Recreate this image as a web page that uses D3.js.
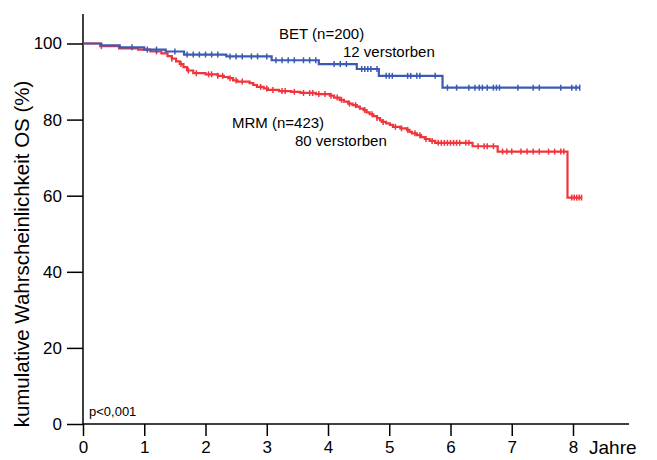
<!DOCTYPE html>
<html>
<head>
<meta charset="utf-8">
<script src="https://cdn.jsdelivr.net/npm/d3@7"></script>
<style>
  html, body { margin: 0; padding: 0; background: #fff; }
  svg { display: block; font-family: Arial, "Liberation Sans", sans-serif; }
</style>
</head>
<body>
<svg id="chart" width="657" height="460"></svg>
<script>
// Kaplan-Meier steps: [time in years, survival % after the drop]
const betSteps = [
  [0, 100], [0.3, 99.5], [0.6, 99.0], [1.0, 98.4], [1.35, 97.9], [1.65, 97.1],
  [2.34, 96.6], [3.08, 95.6], [3.85, 94.6], [4.47, 93.3], [4.83, 91.5], [5.87, 88.4]
];
const betEnd = 8.11;
const betCensored = [
  0.8, 1.05, 1.2, 1.5, 1.7, 1.8, 1.9, 2.0, 2.1, 2.2, 2.4, 2.5, 2.6, 2.75, 2.85, 3.0,
  3.15, 3.25, 3.35, 3.45, 3.6, 3.7, 3.8, 4.1, 4.2, 4.3, 4.55, 4.6, 4.65, 4.7, 4.8,
  4.95, 5.0, 5.05, 5.3, 5.35, 5.45, 5.5, 5.75, 5.95, 6.1, 6.3, 6.4, 6.47, 6.52, 6.6,
  6.7, 6.75, 6.8, 7.1, 7.35, 7.45, 7.8, 7.98, 8.05, 8.11
];

const mrmSteps = [
  [0, 100], [0.28, 99.3], [0.59, 98.7], [0.9, 98.4], [1.1, 97.9], [1.28, 97.4],
  [1.38, 96.7], [1.45, 96.0], [1.52, 95.3], [1.58, 94.6], [1.64, 93.8], [1.7, 92.9],
  [1.8, 92.2], [2.0, 91.9], [2.2, 91.5], [2.3, 91.2], [2.37, 90.9], [2.45, 90.3],
  [2.52, 90.0], [2.72, 89.6], [2.78, 89.1], [2.84, 88.6], [2.95, 88.2], [3.02, 87.8],
  [3.2, 87.5], [3.4, 87.3], [3.55, 87.0], [3.8, 86.7], [4.03, 86.3], [4.1, 85.8],
  [4.19, 85.2], [4.26, 84.7], [4.33, 84.2], [4.4, 83.8], [4.47, 83.4], [4.52, 82.9],
  [4.58, 82.5], [4.63, 81.9], [4.68, 81.4], [4.74, 80.9], [4.8, 80.4], [4.85, 79.8],
  [4.88, 79.4], [4.95, 79.0], [5.01, 78.6], [5.06, 78.1], [5.18, 77.7], [5.29, 77.3],
  [5.33, 76.8], [5.37, 76.4], [5.45, 75.9], [5.52, 75.4], [5.58, 74.9], [5.66, 74.4],
  [5.75, 73.9], [6.36, 73.0], [6.77, 71.6], [7.91, 59.5]
];
const mrmEnd = 8.15;
const mrmCensored = [
  0.3, 1.2, 1.45, 1.6, 1.72, 1.85, 2.05, 2.1, 2.2, 2.28, 2.4, 2.5, 2.6, 2.9, 3.0,
  3.1, 3.25, 3.3, 3.45, 3.6, 3.7, 3.75, 3.85, 3.95, 4.05, 4.15, 4.22, 4.35, 4.45,
  4.6, 4.72, 4.8, 4.9, 5.1, 5.2, 5.3, 5.42, 5.5, 5.6, 5.7, 5.8, 5.85, 5.9, 5.95,
  6.0, 6.05, 6.1, 6.15, 6.25, 6.3, 6.45, 6.55, 6.6, 6.7, 6.85, 6.92, 7.0, 7.15,
  7.25, 7.35, 7.45, 7.6, 7.7, 7.8, 7.85, 7.98, 8.02, 8.06, 8.1, 8.14
];

const xTicks = [0, 1, 2, 3, 4, 5, 6, 7, 8];
const yTicks = [0, 20, 40, 60, 80, 100];

const blue = "#3b5ab3";
const red = "#f0353d";

const svg = d3.select("#chart");
const x = d3.scaleLinear().domain([0, 8]).range([83, 573]);
const y = d3.scaleLinear().domain([0, 100]).range([424, 43.5]);

// axes
const yAxis = svg.append("g").attr("transform", `translate(${x(0)},0)`)
  .call(d3.axisLeft(y).tickValues(yTicks).tickSize(16).tickPadding(5));
yAxis.select(".domain").remove();
yAxis.selectAll(".tick line").attr("stroke", "#000").attr("stroke-width", 1.5);
yAxis.selectAll(".tick text").attr("font-size", 17).attr("fill", "#000")
  .attr("font-family", "Arial, 'Liberation Sans', sans-serif");
svg.append("line").attr("x1", x(0)).attr("x2", x(0)).attr("y1", 14).attr("y2", y(0))
  .attr("stroke", "#000").attr("stroke-width", 1.5);

const xAxis = svg.append("g").attr("transform", `translate(0,${y(0)})`)
  .call(d3.axisBottom(x).tickValues(xTicks).tickSize(12).tickPadding(5));
xAxis.select(".domain").remove();
xAxis.selectAll(".tick line").attr("stroke", "#000").attr("stroke-width", 1.5);
xAxis.selectAll(".tick text").attr("font-size", 17).attr("fill", "#000")
  .attr("font-family", "Arial, 'Liberation Sans', sans-serif");
svg.append("line").attr("x1", x(0)).attr("x2", 629).attr("y1", y(0)).attr("y2", y(0))
  .attr("stroke", "#000").attr("stroke-width", 1.5);

svg.append("text").attr("x", 589).attr("y", 454).attr("font-size", 19).text("Jahre");

svg.append("text")
  .attr("transform", `translate(29,${254}) rotate(-90)`)
  .attr("text-anchor", "middle").attr("font-size", 20.5)
  .text("kumulative Wahrscheinlichkeit OS (%)");

svg.append("text").attr("x", 89).attr("y", 416).attr("font-size", 13).text("p<0,001");

// survival curves
function stepPath(steps, end) {
  const pts = steps.map(d => [d[0], d[1]]);
  pts.push([end, steps[steps.length - 1][1]]);
  return d3.line().curve(d3.curveStepAfter).x(d => x(d[0])).y(d => y(d[1]))(pts);
}
function survivalAt(steps, t) {
  let v = steps[0][1];
  for (const s of steps) { if (s[0] <= t) v = s[1]; }
  return v;
}
function drawCurve(steps, end, censored, color) {
  const g = svg.append("g");
  g.append("path").attr("d", stepPath(steps, end)).attr("fill", "none")
    .attr("stroke", color).attr("stroke-width", 2.2);
  g.selectAll("line.c").data(censored).join("line")
    .attr("x1", d => x(d)).attr("x2", d => x(d))
    .attr("y1", d => y(survivalAt(steps, d)) - 3)
    .attr("y2", d => y(survivalAt(steps, d)) + 3)
    .attr("stroke", color).attr("stroke-width", 1.5);
}
drawCurve(mrmSteps, mrmEnd, mrmCensored, red);
drawCurve(betSteps, betEnd, betCensored, blue);

// curve annotations
const ann = [
  ["BET (n=200)", 279, 39],
  ["12 verstorben", 343, 57],
  ["MRM (n=423)", 232, 128],
  ["80 verstorben", 295, 146]
];
svg.selectAll("text.ann").data(ann).join("text").attr("class", "ann")
  .attr("x", d => d[1]).attr("y", d => d[2]).attr("font-size", 15).text(d => d[0]);
</script>
</body>
</html>
